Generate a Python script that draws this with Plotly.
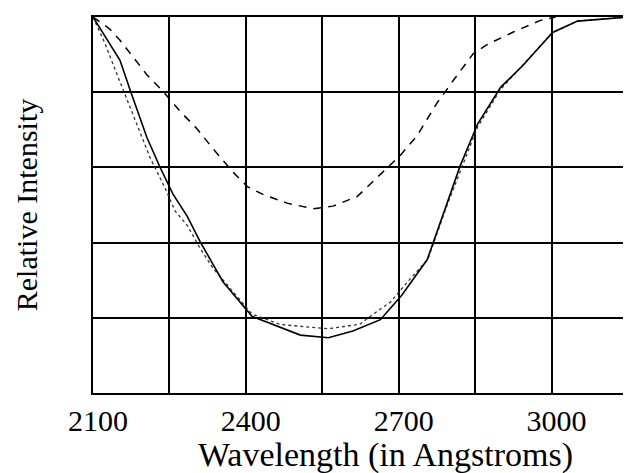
import plotly.graph_objects as go

# Wellenlaengen in Angstrom und relative Intensitaet
wl_solid = [2100, 2153, 2173, 2206, 2232, 2257, 2285, 2310, 2355, 2412, 2507, 2562,
            2610, 2664, 2706, 2756, 2795, 2820, 2855, 2900, 2945, 3002, 3051, 3150]
int_solid = [1.0, 0.885, 0.805, 0.679, 0.599, 0.529, 0.470, 0.403, 0.296, 0.204, 0.154, 0.147,
             0.165, 0.195, 0.260, 0.355, 0.505, 0.602, 0.716, 0.813, 0.873, 0.959, 0.989, 1.0]

wl_dot = [2100, 2124, 2147, 2186, 2212, 2241, 2261, 2285, 2310, 2336, 2412, 2468, 2520,
          2562, 2624, 2649, 2684, 2717, 2757, 2795, 2855, 2900, 3002, 3051, 3150]
int_dot = [1.0, 0.928, 0.848, 0.714, 0.626, 0.546, 0.484, 0.446, 0.385, 0.331, 0.210, 0.182, 0.175,
           0.171, 0.183, 0.209, 0.242, 0.295, 0.355, 0.50, 0.708, 0.808, 0.959, 0.989, 1.0]

wl_dash = [2100, 2133, 2153, 2179, 2206, 2237, 2271, 2304, 2336, 2375, 2403, 2435, 2481,
           2532, 2571, 2619, 2684, 2703, 2736, 2775, 2807, 2846, 2874, 2925, 2978, 3008]
int_dash = [1.0, 0.968, 0.938, 0.892, 0.846, 0.803, 0.749, 0.703, 0.649, 0.587, 0.549, 0.527, 0.505,
            0.490, 0.497, 0.523, 0.606, 0.632, 0.684, 0.771, 0.831, 0.902, 0.927, 0.960, 0.991, 1.0]

x_ticks = [2100, 2400, 2700, 3000]
x_range = [2100, 3150]
grid_step = 150

fig = go.Figure()

fig.add_trace(go.Scatter(x=wl_dot, y=int_dot, mode='lines',
                         line=dict(color='#333', width=1.3, dash='dot')))
fig.add_trace(go.Scatter(x=wl_dash, y=int_dash, mode='lines',
                         line=dict(color='black', width=1.5, dash='8px,7px')))
fig.add_trace(go.Scatter(x=wl_solid, y=int_solid, mode='lines',
                         line=dict(color='black', width=1.6)))

font = dict(family='Liberation Serif', color='black')

# x-Titel als Annotation, im Original etwas nach rechts versetzt
fig.add_annotation(text='Wavelength (in Angstroms)', xref='paper', yref='paper',
                   x=0.546, y=0, yshift=-62, xanchor='center', yanchor='middle',
                   showarrow=False, font=dict(size=34))

# Seite hat 8px body-Rand, daher Raender verschoben
fig.update_layout(
    width=631, height=473,
    margin=dict(l=85, r=11, t=7, b=88),
    paper_bgcolor='white', plot_bgcolor='white',
    showlegend=False,
    font=font,
    xaxis=dict(range=x_range, tickvals=x_ticks, showgrid=False, zeroline=False,
               showline=True, linecolor='black', linewidth=2, mirror=True,
               ticks='', ticklabelstandoff=0, ticklabelshift=5, tickfont=dict(size=30),
               minor=dict(tick0=2100, dtick=grid_step, showgrid=True,
                          gridcolor='black', gridwidth=1.5, ticks='')),
    yaxis=dict(range=[0, 1], dtick=0.2, showgrid=True, gridcolor='black', gridwidth=1.5,
               zeroline=False, showticklabels=False,
               showline=True, linecolor='black', linewidth=2, mirror=True,
               title=dict(text='Relative Intensity', font=dict(size=30), standoff=45)),
)

fig.write_html("out.html")
